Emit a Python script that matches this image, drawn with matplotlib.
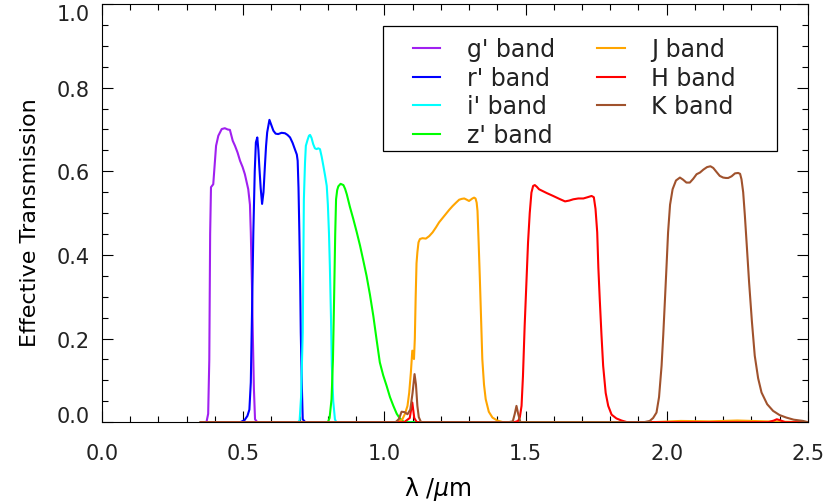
import matplotlib
matplotlib.use("Agg")
import matplotlib.pyplot as plt
from matplotlib.ticker import MultipleLocator
from matplotlib.lines import Line2D
from matplotlib.legend_handler import HandlerLine2D
from matplotlib.patches import Rectangle

# wavelength (micron) / effective transmission
g_lam = [0.35, 0.370, 0.376, 0.380, 0.383, 0.386, 0.394, 0.404, 0.412, 0.424, 0.435,
         0.445, 0.453, 0.463, 0.471, 0.480, 0.489, 0.498, 0.506, 0.518, 0.524, 0.527,
         0.531, 0.534, 0.538, 0.542, 0.55, 2.5]
g_T = [0, 0, 0.02, 0.15, 0.45, 0.562, 0.569, 0.661, 0.685, 0.701, 0.703,
       0.700, 0.699, 0.673, 0.661, 0.645, 0.625, 0.610, 0.593, 0.557, 0.52, 0.454,
       0.33, 0.215, 0.08, 0.007, 0, 0]

r_lam = [0.35, 0.49, 0.505, 0.515, 0.522, 0.527, 0.531, 0.536, 0.541, 0.545, 0.550,
         0.554, 0.557, 0.562, 0.567, 0.572, 0.577, 0.581, 0.585, 0.593, 0.600, 0.607,
         0.615, 0.624, 0.636, 0.648, 0.657, 0.666, 0.675, 0.683, 0.690, 0.693, 0.696,
         0.699, 0.702, 0.704, 0.708, 0.711, 0.72, 2.5]
r_T = [0, 0, 0.005, 0.015, 0.03, 0.095, 0.25, 0.454, 0.60, 0.669, 0.681,
       0.65, 0.613, 0.56, 0.522, 0.55, 0.613, 0.66, 0.693, 0.723, 0.71, 0.697,
       0.690, 0.689, 0.692, 0.691, 0.687, 0.681, 0.668, 0.653, 0.640, 0.625, 0.56,
       0.454, 0.33, 0.215, 0.08, 0.007, 0, 0]

i_lam = [0.35, 0.695, 0.700, 0.705, 0.711, 0.715, 0.719, 0.722, 0.728, 0.733, 0.737,
         0.742, 0.748, 0.754, 0.760, 0.766, 0.772, 0.778, 0.784, 0.790, 0.796, 0.800,
         0.804, 0.807, 0.811, 0.814, 0.819, 0.825, 0.83, 2.5]
i_T = [0, 0, 0.005, 0.06, 0.215, 0.533, 0.62, 0.661, 0.675, 0.685, 0.687,
       0.68, 0.665, 0.655, 0.653, 0.655, 0.653, 0.635, 0.613, 0.59, 0.565, 0.52,
       0.45, 0.374, 0.25, 0.135, 0.05, 0.007, 0, 0]

z_lam = [0.35, 0.80, 0.806, 0.813, 0.818, 0.822, 0.826, 0.829, 0.833, 0.837, 0.845,
         0.855, 0.861, 0.867, 0.878, 0.890, 0.902, 0.914, 0.925, 0.937, 0.949, 0.961,
         0.972, 0.984, 0.996, 1.008, 1.020, 1.032, 1.044, 1.055, 1.07, 2.5]
z_T = [0, 0, 0.01, 0.055, 0.15, 0.294, 0.45, 0.533, 0.555, 0.564, 0.57,
       0.567, 0.558, 0.545, 0.515, 0.486, 0.455, 0.422, 0.388, 0.350, 0.305, 0.254,
       0.200, 0.143, 0.112, 0.087, 0.060, 0.039, 0.020, 0.009, 0, 0]

J_lam = [0.35, 1.04, 1.055, 1.064, 1.073, 1.082, 1.088, 1.094, 1.099, 1.102, 1.105,
         1.108, 1.111, 1.114, 1.117, 1.121, 1.126, 1.135, 1.147, 1.159, 1.171, 1.183,
         1.194, 1.206, 1.218, 1.230, 1.242, 1.254, 1.265, 1.274, 1.283, 1.292, 1.300,
         1.306, 1.312, 1.318, 1.323, 1.327, 1.330, 1.334, 1.338, 1.343, 1.347, 1.353,
         1.359, 1.370, 1.383, 1.40, 1.42, 1.95, 2.05, 2.15, 2.25, 2.35, 2.5]
J_T = [0, 0, 0.003, 0.007, 0.02, 0.039, 0.07, 0.119, 0.171, 0.17, 0.151,
       0.2, 0.30, 0.38, 0.406, 0.43, 0.438, 0.440, 0.439, 0.445, 0.454, 0.466,
       0.478, 0.488, 0.498, 0.508, 0.517, 0.525, 0.532, 0.534, 0.535, 0.532, 0.529,
       0.532, 0.535, 0.537, 0.535, 0.525, 0.505, 0.43, 0.350, 0.24, 0.151, 0.09,
       0.055, 0.025, 0.011, 0.004, 0, 0, 0.003, 0.002, 0.004, 0.002, 0]

H_lam = [0.35, 1.07, 1.09, 1.099, 1.106, 1.115, 1.46, 1.474, 1.480, 1.486, 1.491,
         1.497, 1.503, 1.509, 1.515, 1.521, 1.527, 1.533, 1.540, 1.548, 1.560, 1.575,
         1.598, 1.620, 1.640, 1.655, 1.669, 1.687, 1.705, 1.720, 1.734, 1.742, 1.748,
         1.754, 1.758, 1.763, 1.769, 1.775, 1.784, 1.793, 1.805, 1.822, 1.84, 1.86,
         2.36, 2.38, 2.39, 2.40, 2.42, 2.5]
H_T = [0, 0, 0.01, 0.047, 0.01, 0, 0, 0.003, 0.012, 0.039, 0.11,
       0.230, 0.33, 0.430, 0.50, 0.549, 0.565, 0.567, 0.563, 0.557, 0.553, 0.548,
       0.541, 0.534, 0.528, 0.530, 0.533, 0.535, 0.535, 0.538, 0.541, 0.538, 0.51,
       0.454, 0.37, 0.294, 0.21, 0.135, 0.07, 0.039, 0.018, 0.009, 0.004, 0,
       0, 0.004, 0.007, 0.005, 0, 0]

K_lam = [0.35, 1.04, 1.052, 1.061, 1.072, 1.082, 1.092, 1.100, 1.107, 1.112, 1.117,
         1.122, 1.13, 1.44, 1.455, 1.462, 1.468, 1.474, 1.482, 1.92, 1.940, 1.952,
         1.964, 1.973, 1.982, 1.988, 1.994, 2.000, 2.005, 2.012, 2.021, 2.033, 2.047,
         2.058, 2.070, 2.082, 2.094, 2.106, 2.118, 2.130, 2.143, 2.155, 2.165, 2.177,
         2.188, 2.200, 2.210, 2.218, 2.230, 2.242, 2.253, 2.260, 2.265, 2.271, 2.277,
         2.284, 2.292, 2.302, 2.312, 2.324, 2.336, 2.356, 2.377, 2.400, 2.424, 2.45,
         2.483, 2.5]
K_T = [0, 0, 0.008, 0.025, 0.024, 0.019, 0.03, 0.07, 0.115, 0.09, 0.039,
       0.012, 0, 0, 0.002, 0.02, 0.039, 0.02, 0, 0, 0.003, 0.01,
       0.023, 0.06, 0.135, 0.21, 0.294, 0.38, 0.454, 0.52, 0.557, 0.578, 0.585,
       0.580, 0.573, 0.573, 0.582, 0.593, 0.597, 0.604, 0.610, 0.612, 0.608, 0.598,
       0.589, 0.585, 0.584, 0.584, 0.588, 0.595, 0.596, 0.594, 0.581, 0.55, 0.494,
       0.42, 0.334, 0.24, 0.159, 0.105, 0.071, 0.043, 0.027, 0.017, 0.011, 0.006,
       0.003, 0]

bands = [
    ("g' band", g_lam, g_T, "#a020f0"),
    ("r' band", r_lam, r_T, "#0000ff"),
    ("i' band", i_lam, i_T, "#00ffff"),
    ("z' band", z_lam, z_T, "#00ff00"),
    ("J band", J_lam, J_T, "#ffa500"),
    ("H band", H_lam, H_T, "#ff0000"),
    ("K band", K_lam, K_T, "#a0522d"),
]

plt.rcParams["font.family"] = ["DejaVu Sans"]
plt.rcParams["text.color"] = "#222222"

fig = plt.figure(figsize=(8.26, 5.02), dpi=100)
fig.subplots_adjust(left=0.1235, right=0.978, top=0.990, bottom=0.157)
ax = fig.add_subplot()

for name, lam, T, col in bands:
    ax.plot(lam, T, color=col, lw=1.5, label=name)

ax.set_xlim(0.0, 2.5)
ax.set_ylim(0.0, 1.0)
ax.xaxis.set_major_locator(MultipleLocator(0.5))
ax.xaxis.set_minor_locator(MultipleLocator(0.1))
ax.yaxis.set_major_locator(MultipleLocator(0.2))
ax.yaxis.set_minor_locator(MultipleLocator(0.05))
ax.tick_params(which="both", direction="in", top=True, right=True,
               labelsize=15, labelcolor="#222222", width=0.8)
ax.tick_params(which="major", length=8)
ax.tick_params(which="minor", length=4.5)
ax.tick_params(axis="x", which="major", pad=15)
ax.tick_params(axis="y", which="major", pad=9)
for s in ax.spines.values():
    s.set_linewidth(0.8)

ax.set_xticks([0.0, 0.5, 1.0, 1.5, 2.0, 2.5])
ax.set_xticklabels(["0.0", "0.5", "1.0", "1.5", "2.0", "2.5"])
ax.set_yticks([0.0, 0.2, 0.4, 0.6, 0.8, 1.0])
ax.set_yticklabels(["0.0", "0.2", "0.4", "0.6", "0.8", "1.0"])
yt = ax.yaxis.get_major_ticks()
yt[0].label1.set_va("baseline")
yt[-1].label1.set_va("top")

ax.set_xlabel("λ /$\\mu$m", fontsize=17)
ax.xaxis.set_label_coords(0.475, -0.125)
ax.set_ylabel("Effective Transmission", fontsize=16)
ax.yaxis.set_label_coords(-0.088, 0.48)

# legend frame drawn as its own box, entries placed inside it
ax.add_patch(Rectangle((0.398, 0.648), 0.558, 0.299, transform=ax.transAxes,
                       fill=True, facecolor="white", edgecolor="black",
                       lw=0.9, zorder=4))
leg = ax.legend(ncol=2, loc="upper left", bbox_to_anchor=(0.398, 0.937),
                fontsize=17, frameon=False, numpoints=2,
                handler_map={Line2D: HandlerLine2D(marker_pad=0.97)},
                handlelength=3.1, handletextpad=0.17,
                columnspacing=0.8, labelspacing=0.19, borderpad=0.3,
                borderaxespad=0)
leg.set_zorder(5)

fig.savefig("out.png", dpi=100)
